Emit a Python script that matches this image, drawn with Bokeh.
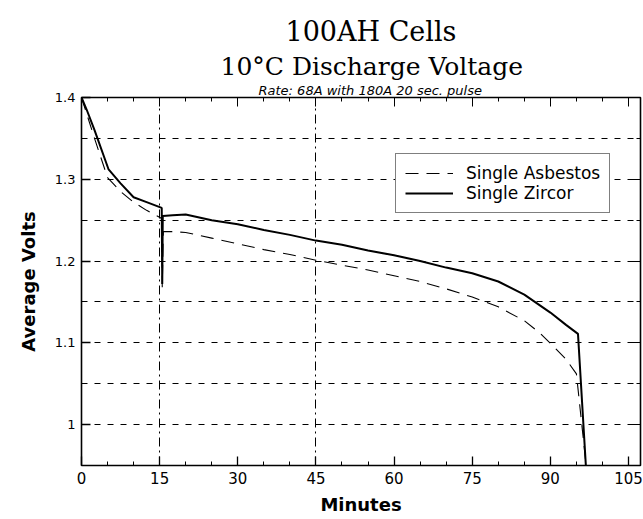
from bokeh.plotting import figure
from bokeh.models import (Title, LinearAxis, FixedTicker,
                          Legend, LegendItem, Range1d, CustomJSTickFormatter)
from bokeh.embed import file_html
from bokeh.resources import INLINE

# ---- data ----
zircor_min = [0, 1, 2.5, 5.2, 7.5, 10, 12.5, 15.4, 15.5, 15.6, 17.5, 20, 25, 30, 35, 40,
              45, 50, 55, 60, 65, 70, 75, 80, 85, 90, 93, 95.3, 97.0]
zircor_volts = [1.400, 1.385, 1.360, 1.312, 1.295, 1.278, 1.272, 1.265, 1.172, 1.255, 1.256,
                1.257, 1.250, 1.245, 1.238, 1.232, 1.225, 1.220, 1.213, 1.207, 1.200, 1.192,
                1.185, 1.175, 1.159, 1.137, 1.122, 1.111, 0.930]

asbestos_min = [0, 1, 2.5, 5, 7.5, 10, 12.5, 15.4, 15.5, 15.7, 17.5, 20, 25, 30, 35, 40,
                45, 50, 55, 60, 65, 70, 75, 80, 85, 88, 91, 93, 95, 97.2]
asbestos_volts = [1.400, 1.380, 1.350, 1.302, 1.285, 1.272, 1.262, 1.252, 1.168, 1.236, 1.236,
                  1.235, 1.228, 1.221, 1.214, 1.208, 1.201, 1.195, 1.189, 1.182, 1.175, 1.166,
                  1.156, 1.144, 1.127, 1.112, 1.093, 1.080, 1.062, 0.930]

x_ticks = [0, 15, 30, 45, 60, 75, 90, 105]
x_minor = [5, 10, 20, 25, 35, 40, 50, 55, 65, 70, 80, 85, 95, 100]
y_ticks = [1.0, 1.1, 1.2, 1.3, 1.4]
y_minor = [1.05, 1.15, 1.25, 1.35]
y_grid = [1.0, 1.05, 1.1, 1.15, 1.2, 1.25, 1.3, 1.35]
x_grid = [15, 45]

title_1 = "100AH Cells"
title_2 = "10°C Discharge Voltage"
subtitle = "Rate: 68A with 180A 20 sec. pulse"
series_names = ["Single Asbestos", "Single Zircor"]

p = figure(width=643, height=519, output_backend="svg", toolbar_location=None,
           x_range=Range1d(0, 107.3), y_range=Range1d(0.95, 1.4),
           x_axis_label="Minutes", y_axis_label="Average Volts",
           min_border_left=81, min_border_right=3, min_border_top=97, min_border_bottom=54)

p.background_fill_color = "white"
p.border_fill_color = "white"
p.outline_line_color = "black"
p.outline_line_width = 1.6

# ---- axes ----
xt = FixedTicker(ticks=x_ticks, minor_ticks=x_minor)
yt = FixedTicker(ticks=y_ticks, minor_ticks=y_minor)

xa = p.xaxis[0]
xa.ticker = xt
ya = p.yaxis[0]
ya.ticker = yt
ya.formatter = CustomJSTickFormatter(code="return Math.abs(tick-1) < 1e-9 ? '1' : tick.toFixed(1);")

for ax in (xa, ya):
    ax.axis_line_color = None
    ax.major_tick_in = 9
    ax.major_tick_out = 0
    ax.minor_tick_in = 4
    ax.minor_tick_out = 0
    ax.major_tick_line_color = "black"
    ax.minor_tick_line_color = "black"
    ax.major_tick_line_width = 1.3
    ax.major_label_text_font = "DejaVu Sans"
    ax.major_label_text_color = "black"
    ax.axis_label_text_font = "DejaVu Sans"
    ax.axis_label_text_font_style = "bold"
    ax.axis_label_text_font_size = "18px"
    ax.axis_label_text_color = "black"

xa.major_label_text_font_size = "15px"
xa.major_label_standoff = 6
xa.axis_label_standoff = 7
ya.major_label_text_font_size = "13px"
ya.major_label_standoff = 6
ya.axis_label_standoff = 13
ya.major_label_orientation = "horizontal"

top = LinearAxis(ticker=xt, axis_line_color=None, major_tick_in=9, major_tick_out=0,
                 minor_tick_in=4, minor_tick_out=0, major_label_text_font_size="0px",
                 major_label_text_color=None, major_label_standoff=0,
                 major_tick_line_color="black", minor_tick_line_color="black")
right = LinearAxis(ticker=yt, axis_line_color=None, major_tick_in=9, major_tick_out=0,
                   minor_tick_in=4, minor_tick_out=0, major_label_text_font_size="0px",
                   major_label_text_color=None, major_label_standoff=0,
                   major_tick_line_color="black", minor_tick_line_color="black")
p.add_layout(right, "right")
p.add_layout(top, "above")

# ---- grids ----
p.xgrid.ticker = FixedTicker(ticks=x_grid)
p.xgrid.grid_line_color = "black"
p.xgrid.grid_line_dash = "9 4 2 4"
p.xgrid.grid_line_width = 1
p.ygrid.ticker = FixedTicker(ticks=y_grid)
p.ygrid.grid_line_color = "black"
p.ygrid.grid_line_dash = "6 7"
p.ygrid.grid_line_width = 1

# ---- titles ----
p.add_layout(Title(text=subtitle, align="left", offset=177, text_font="DejaVu Sans",
                   text_font_style="italic", text_font_size="13px",
                   text_color="black", standoff=0), "above")
p.add_layout(Title(text=title_2, align="left", offset=139, text_font="DejaVu Serif",
                   text_font_style="normal", text_font_size="25px",
                   text_color="black", standoff=0), "above")
p.title.text = title_1
p.title.align = "left"
p.title.offset = 204
p.title.text_font = "DejaVu Serif"
p.title.text_font_style = "normal"
p.title.text_font_size = "27px"
p.title.text_color = "black"
p.title.standoff = 5

# ---- data lines ----
r_asb = p.line(asbestos_min, asbestos_volts, line_color="black", line_width=1.1,
               line_dash="13 8")
r_zir = p.line(zircor_min, zircor_volts, line_color="black", line_width=2)

legend = Legend(items=[LegendItem(label=series_names[0], renderers=[r_asb]),
                       LegendItem(label=series_names[1], renderers=[r_zir])],
                location=(314, 252))
legend.border_line_color = "black"
legend.border_line_width = 1.5
legend.background_fill_color = "white"
legend.background_fill_alpha = 1
legend.label_text_font = "DejaVu Sans"
legend.label_text_font_size = "17px"
legend.label_text_color = "black"
legend.glyph_width = 48
legend.label_height = 20
legend.glyph_height = 20
legend.label_standoff = 13
legend.padding = 9
legend.spacing = 0
legend.margin = 0
p.add_layout(legend, "center")

open("out.html", "w").write(file_html(p, INLINE))
